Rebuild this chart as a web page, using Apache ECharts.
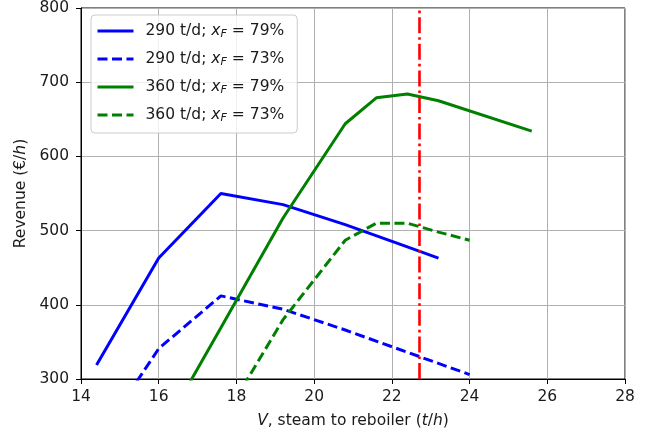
<!DOCTYPE html>
<html><head><meta charset="utf-8">
<script src="https://cdn.jsdelivr.net/npm/echarts@6/dist/echarts.min.js"></script>
<style>html,body{margin:0;padding:0;background:#fff}#c{width:654px;height:437px}</style>
</head><body><div id="c"></div>
<script>
// Data
const seriesNames = ['290 t/d; x_F = 79%', '290 t/d; x_F = 73%', '360 t/d; x_F = 79%', '360 t/d; x_F = 73%'];
const v290_79 = [[14.4, 319], [16.0, 463], [17.6, 550], [19.2, 535], [20.8, 508], [22.4, 478], [23.2, 463]];
const v290_73 = [[14.4, 215], [16.0, 341], [17.6, 412], [19.2, 394], [20.8, 366], [22.4, 336], [24.0, 306]];
const v360_79 = [[16.0, 222], [17.6, 369], [19.2, 517], [20.8, 644], [21.6, 679], [22.4, 684], [23.2, 675], [25.6, 634]];
const v360_73 = [[17.6, 240], [19.2, 380], [20.8, 487], [21.6, 510], [22.4, 510], [23.2, 498], [24.0, 487]];
const redLineX = 22.7;
const xTicks = {min: 14, max: 28, interval: 2};
const yTicks = {min: 300, max: 800, interval: 100};

const F = 'DejaVu Sans';
const FS = 15.5;
const ink = '#1a1a1a';
const chart = echarts.init(document.getElementById('c'), null, {renderer: 'canvas'});
const richIt = {
  i: {fontFamily: F, fontSize: FS, fontStyle: 'italic', color: ink},
  s: {fontFamily: F, fontSize: 11, fontStyle: 'italic', color: ink, padding: [7, 0, 0, 0]},
  e: {fontFamily: F, fontSize: FS, color: ink, padding: [0, 5, 0, 5]},
  n: {fontFamily: F, fontSize: FS, color: ink}
};
function legendFmt(name) {
  const m = name.match(/^(.*)x_F = (.*)$/);
  return '{n|' + m[1] + '}{i|x}{s|F}{e|=}{n|' + m[2] + '}';
}
const colors = ['#0000ff', '#0000ff', '#008000', '#008000'];
const dataSets = [v290_79, v290_73, v360_79, v360_73];
const series = dataSets.map((d, k) => ({
  name: seriesNames[k],
  type: 'line',
  data: d,
  symbol: 'none',
  clip: true,
  lineStyle: {color: colors[k], width: 3, type: k % 2 ? [10, 4.5] : 'solid'},
  itemStyle: {color: colors[k]},
  animation: false,
  z: 3
}));
series[0].markLine = {
  silent: true, symbol: 'none', animation: false,
  label: {show: false},
  lineStyle: {color: '#ff0000', width: 2.6, type: [16, 4, 2.6, 4]},
  data: [{xAxis: redLineX}]
};

chart.setOption({
  animation: false,
  backgroundColor: '#fff',
  grid: {left: 81, right: 29, top: 7, bottom: 58, show: true, borderColor: '#000', borderWidth: 1, backgroundColor: 'transparent'},
  xAxis: {
    type: 'value', min: xTicks.min, max: xTicks.max, interval: xTicks.interval,
    name: '{i|V}{n|, steam to reboiler (}{i|t}{n|/}{i|h}{n|)}',
    nameLocation: 'middle', nameGap: 34,
    nameTextStyle: {rich: richIt},
    axisLine: {show: true, lineStyle: {color: '#000', width: 1}},
    axisTick: {show: true, inside: false, length: 5, lineStyle: {color: '#000'}},
    axisLabel: {fontFamily: F, fontSize: FS, color: ink, margin: 10},
    splitLine: {show: true, lineStyle: {color: '#b0b0b0', width: 1}}
  },
  yAxis: {
    type: 'value', min: yTicks.min, max: yTicks.max, interval: yTicks.interval,
    name: '{n|Revenue (€/}{i|h}{n|)}',
    nameLocation: 'middle', nameGap: 48,
    nameTextStyle: {rich: richIt},
    axisLine: {show: true, lineStyle: {color: '#000', width: 1}},
    axisTick: {show: true, inside: false, length: 5, lineStyle: {color: '#000'}},
    axisLabel: {fontFamily: F, fontSize: FS, color: ink, margin: 12},
    splitLine: {show: true, lineStyle: {color: '#b0b0b0', width: 1}}
  },
  legend: {
    left: 91, top: 15, orient: 'vertical',
    padding: [8, 13, 9, 5],
    itemWidth: 36, itemHeight: 14, itemGap: 11,
    backgroundColor: 'rgba(255,255,255,0.8)',
    borderColor: '#cccccc', borderWidth: 1, borderRadius: 4,
    itemStyle: {opacity: 0, borderWidth: 0},
    lineStyle: {width: 3},
    formatter: legendFmt,
    textStyle: {fontFamily: F, fontSize: FS, lineHeight: 14, color: ink, padding: [0, 0, 0, 7], rich: richIt},
    data: seriesNames
  },
  series: series
});
</script></body></html>
